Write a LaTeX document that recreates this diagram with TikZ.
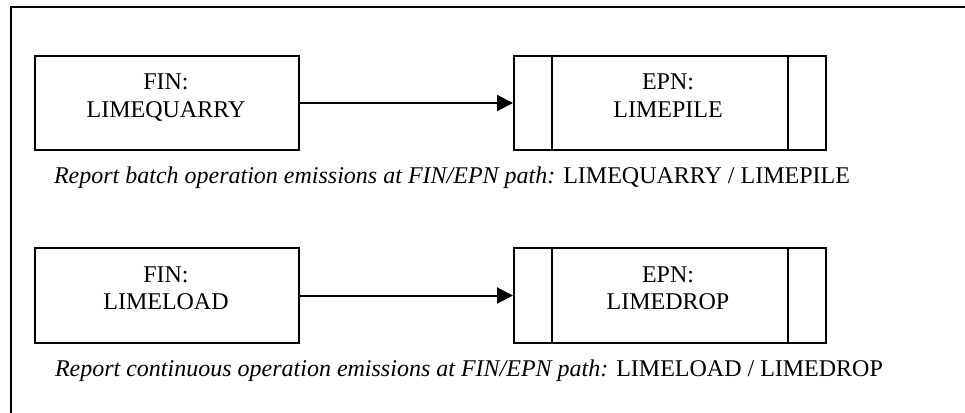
\documentclass[tikz,border=0pt]{standalone}
\usepackage{fontspec}
\setmainfont{Liberation Serif}
\usetikzlibrary{arrows.meta}
\begin{document}
\begin{tikzpicture}[x=1pt,y=-1pt,
  line width=2pt,
  finbox/.style={draw, line width=2pt, minimum width=264pt, minimum height=94pt, inner sep=0pt},
  epnbox/.style={draw, line width=2pt, minimum width=312pt, minimum height=94pt, inner sep=0pt},
  txt/.style={font=\fontsize{24}{28}\selectfont, inner sep=0pt},
  arr/.style={line width=2pt, -{Triangle[length=16pt,width=16pt]}}]
\useasboundingbox (0,0) rectangle (965,412);
\clip (0,0) rectangle (965,412);
\fill[white] (0,0) rectangle (965,412);
% outer frame
\draw[line width=2pt] (11,7) rectangle (1000,450);
% row 1
\node[finbox] (fin1) at (167,103) {};
\node[epnbox] (epn1) at (670,103) {};
\draw ([xshift=39pt]epn1.north west) -- ([xshift=39pt]epn1.south west);
\draw ([xshift=-39pt]epn1.north east) -- ([xshift=-39pt]epn1.south east);
\node[txt, anchor=base] (fin1a) at (166,89) {FIN:};
\node[txt, anchor=base] (fin1b) at (166,117) {LIMEQUARRY};
\node[txt, anchor=base] (epn1a) at (668,89) {EPN:};
\node[txt, anchor=base] (epn1b) at (668,117) {LIMEPILE};
\draw[arr] (fin1.east) -- (epn1.west);
\node[txt, anchor=base west] (cap1) at (53,183) {\textit{Report batch operation emissions at FIN/EPN path:} LIMEQUARRY / LIMEPILE};
% row 2
\node[finbox, minimum height=95pt] (fin2) at (167,295.5) {};
\node[epnbox, minimum height=95pt] (epn2) at (670,295.5) {};
\draw ([xshift=39pt]epn2.north west) -- ([xshift=39pt]epn2.south west);
\draw ([xshift=-39pt]epn2.north east) -- ([xshift=-39pt]epn2.south east);
\node[txt, anchor=base] (fin2a) at (166,282) {FIN:};
\node[txt, anchor=base] (fin2b) at (166,309.5) {LIMELOAD};
\node[txt, anchor=base] (epn2a) at (668,282) {EPN:};
\node[txt, anchor=base] (epn2b) at (668,309.5) {LIMEDROP};
\draw[arr] (fin2.east) -- (epn2.west);
\node[txt, anchor=base west] (cap2) at (54,376) {\textit{Report continuous operation emissions at FIN/EPN path:} LIMELOAD / LIMEDROP};
\end{tikzpicture}
\end{document}
